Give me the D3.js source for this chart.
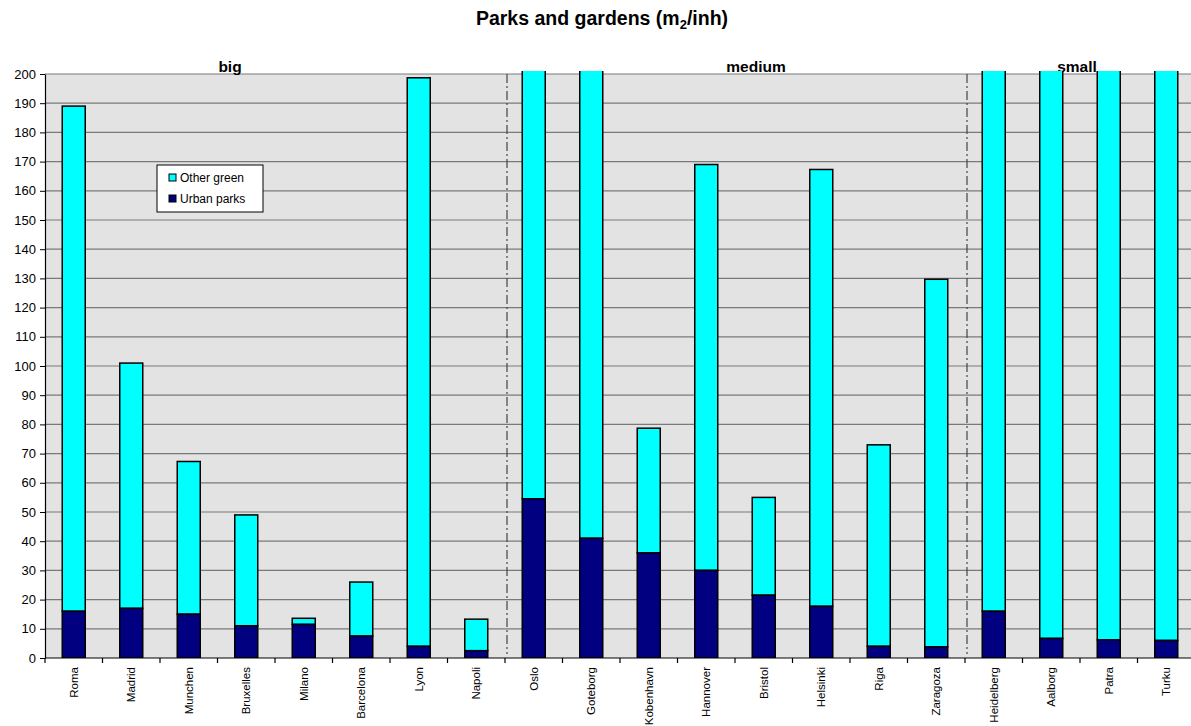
<!DOCTYPE html>
<html>
<head>
<meta charset="utf-8">
<script src="https://cdn.jsdelivr.net/npm/d3@7"></script>
<style>
  html, body { margin: 0; padding: 0; background: #fff; }
  svg { display: block; font-family: "Liberation Sans", Arial, sans-serif; }
</style>
</head>
<body>
<svg id="chart" width="1191" height="726"></svg>
<script>
// Cities, grouped by size class
const cities = ["Roma","Madrid","Munchen","Bruxelles","Milano","Barcelona","Lyon","Napoli",
  "Oslo","Goteborg","Kobenhavn","Hannover","Bristol","Helsinki","Riga","Zaragoza",
  "Heidelberg","Aalborg","Patra","Turku"];
// Urban parks (m2 per inhabitant)
const urbanParks = [16, 17, 15, 11, 11.5, 7.5, 4, 2.5,
  54.5, 41, 36, 30, 21.5, 17.7, 4, 3.8,
  16, 6.7, 6.2, 6];
// Total green: urban parks + other green (m2 per inhabitant)
const totalGreen = [189, 101, 67.3, 49, 13.6, 26, 198.7, 13.3,
  260, 240, 78.7, 169, 55, 167.3, 73, 129.7,
  230, 250, 220, 270];
// Size groups: label and index of first city
const groups = [
  {label: "big", start: 0},
  {label: "medium", start: 8},
  {label: "small", start: 16}
];
const yTicks = d3.range(0, 201, 10);

const svg = d3.select("#chart");
const plotLeft = 45, plotRight = 1195, plotTop = 74, plotBottom = 658;

const x = d3.scaleBand().domain(cities).range([plotLeft, plotRight])
  .paddingInner(0.6).paddingOuter(0.3);
const y = d3.scaleLinear().domain([0, 200]).range([plotBottom, plotTop]);
const step = x.step();

// Title
const title = svg.append("text")
  .attr("x", 602).attr("y", 25)
  .attr("text-anchor", "middle")
  .attr("font-size", 19.5).attr("font-weight", "bold");
title.append("tspan").text("Parks and gardens (m");
title.append("tspan").attr("font-size", 13).attr("dy", 4).text("2");
title.append("tspan").attr("dy", -4).text("/inh)");

// Plot background
svg.append("rect")
  .attr("x", plotLeft).attr("y", plotTop)
  .attr("width", plotRight - plotLeft).attr("height", plotBottom - plotTop)
  .attr("fill", "#e3e3e3");

// Horizontal gridlines
svg.append("g").selectAll("line").data(yTicks.filter(d => d > 0)).join("line")
  .attr("x1", plotLeft).attr("x2", plotRight)
  .attr("y1", d => y(d)).attr("y2", d => y(d))
  .attr("stroke", "#7a7a7a").attr("stroke-width", 1.2);

// Group separators (dash-dot)
svg.append("g").selectAll("line").data(groups.slice(1)).join("line")
  .attr("x1", d => x(cities[d.start]) - x.bandwidth() * 0.75 + 2)
  .attr("x2", d => x(cities[d.start]) - x.bandwidth() * 0.75 + 2)
  .attr("y1", plotTop).attr("y2", plotBottom - 4)
  .attr("stroke", "#444").attr("stroke-width", 1.2)
  .attr("stroke-dasharray", "9,3,2,3");

// Group labels
const groupLabelX = {big: 230, medium: 756, small: 1077};
svg.append("g").selectAll("text").data(groups).join("text")
  .attr("x", d => groupLabelX[d.label]).attr("y", 72)
  .attr("text-anchor", "middle")
  .attr("font-size", 15.5).attr("font-weight", "bold")
  .text(d => d.label);

// Bars, clipped slightly above the top of the value axis
svg.append("clipPath").attr("id", "plotClip")
  .append("rect").attr("x", plotLeft).attr("y", plotTop - 3)
  .attr("width", plotRight - plotLeft).attr("height", plotBottom - plotTop + 3);

const bars = svg.append("g").attr("clip-path", "url(#plotClip)");
// Other green (stacked on top of urban parks)
bars.selectAll("rect.other").data(cities).join("rect")
  .attr("class", "other")
  .attr("x", d => x(d)).attr("width", x.bandwidth())
  .attr("y", (d, i) => y(totalGreen[i]))
  .attr("height", (d, i) => y(urbanParks[i]) - y(totalGreen[i]))
  .attr("fill", "#00ffff").attr("stroke", "#000").attr("stroke-width", 1.5);
// Urban parks
bars.selectAll("rect.urban").data(cities).join("rect")
  .attr("class", "urban")
  .attr("x", d => x(d)).attr("width", x.bandwidth())
  .attr("y", (d, i) => y(urbanParks[i]))
  .attr("height", (d, i) => y(0) - y(urbanParks[i]))
  .attr("fill", "#000080").attr("stroke", "#000").attr("stroke-width", 1.5);

// Y axis
const yAxis = svg.append("g").attr("transform", `translate(${plotLeft},0)`)
  .call(d3.axisLeft(y).tickValues(yTicks).tickSize(5).tickSizeOuter(0));
yAxis.select(".domain").attr("stroke", "#000").attr("stroke-width", 1.2);
yAxis.selectAll(".tick line").attr("stroke", "#000");
yAxis.selectAll(".tick text").attr("font-size", 13)
  .attr("font-family", "'Liberation Sans', Arial, sans-serif").attr("fill", "#000").attr("x", -9);

// X axis: baseline, tick marks between categories, rotated labels
svg.append("line").attr("x1", plotLeft).attr("x2", plotRight)
  .attr("y1", plotBottom).attr("y2", plotBottom)
  .attr("stroke", "#000").attr("stroke-width", 1.2);
svg.append("g").selectAll("line").data(d3.range(cities.length + 1)).join("line")
  .attr("x1", i => plotLeft + i * step).attr("x2", i => plotLeft + i * step)
  .attr("y1", plotBottom).attr("y2", plotBottom + 5)
  .attr("stroke", "#000").attr("stroke-width", 1.2);
svg.append("g").selectAll("text").data(cities).join("text")
  .attr("transform", d => `translate(${x(d) + x.bandwidth() / 2 + 4},${plotBottom + 9}) rotate(-90)`)
  .attr("text-anchor", "end")
  .attr("font-size", 11.5)
  .text(d => d);

// Legend
const lg = svg.append("g").attr("transform", "translate(157,165)");
lg.append("rect").attr("width", 106).attr("height", 47)
  .attr("fill", "#fff").attr("stroke", "#000").attr("stroke-width", 1);
const legendItems = [
  {label: "Other green", color: "#00ffff"},
  {label: "Urban parks", color: "#000080"}
];
legendItems.forEach((d, i) => {
  const row = lg.append("g").attr("transform", `translate(12,${9 + i * 21})`);
  row.append("rect").attr("width", 7).attr("height", 7)
    .attr("fill", d.color).attr("stroke", "#000").attr("stroke-width", 1);
  row.append("text").attr("x", 11).attr("y", 8).attr("font-size", 12).text(d.label);
});
</script>
</body>
</html>
